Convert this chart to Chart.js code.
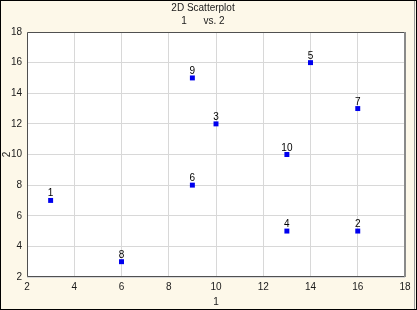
<!DOCTYPE html>
<html>
<head>
<meta charset="utf-8">
<script src="https://cdn.jsdelivr.net/npm/chart.js@4/dist/chart.umd.min.js"></script>
<style>
  html, body { margin: 0; padding: 0; background: #fdf8e9; }
  #wrap { width: 417px; height: 310px; position: relative; }
</style>
</head>
<body>
<div id="wrap"><canvas id="scatter" width="417" height="310"></canvas></div>
<script>
// ---- data ----
const caseLabels = ['1', '2', '3', '4', '5', '6', '7', '8', '9', '10'];
const xValues = [3, 16, 10, 13, 14, 9, 16, 6, 9, 13];
const yValues = [7, 5, 12, 5, 16, 8, 13, 3, 15, 10];
const axisMin = 2;
const axisMax = 18;
const axisStep = 2;

const FONT = "'Liberation Sans', Arial, sans-serif";

// plot area white + frame, outer border of the window
const framePlugin = {
    id: 'frame',
    beforeDraw(chart) {
        const { ctx, chartArea: a, width, height } = chart;
        ctx.save();
        ctx.fillStyle = '#fdf8e9';
        ctx.fillRect(0, 0, width, height);
        ctx.fillStyle = '#ffffff';
        ctx.fillRect(a.left, a.top, a.right - a.left, a.bottom - a.top);
        ctx.restore();
    },
    afterDraw(chart) {
        const { ctx, chartArea: a, width, height } = chart;
        ctx.save();
        // top + left + bottom of plot
        ctx.strokeStyle = '#505050';
        ctx.lineWidth = 1;
        ctx.beginPath();
        ctx.moveTo(a.right, a.top + 0.5);
        ctx.lineTo(a.left + 0.5, a.top + 0.5);
        ctx.lineTo(a.left + 0.5, a.bottom - 0.5);
        ctx.lineTo(a.right, a.bottom - 0.5);
        ctx.stroke();
        // right edge, heavier gray
        ctx.strokeStyle = '#8a8a8a';
        ctx.lineWidth = 2;
        ctx.beginPath();
        ctx.moveTo(a.right, a.top);
        ctx.lineTo(a.right, a.bottom);
        ctx.stroke();
        // window border
        ctx.strokeStyle = '#000000';
        ctx.lineWidth = 1;
        ctx.strokeRect(0.5, 0.5, width - 1, height - 1);
        ctx.strokeStyle = '#9a9a9a';
        ctx.beginPath();
        ctx.moveTo(width - 2.5, 1);
        ctx.lineTo(width - 2.5, height - 1);
        ctx.stroke();
        ctx.restore();
    }
};

// case numbers above each marker
const caseLabelPlugin = {
    id: 'caseLabels',
    afterDatasetsDraw(chart) {
        const { ctx } = chart;
        const meta = chart.getDatasetMeta(0);
        ctx.save();
        ctx.font = '10px ' + FONT;
        ctx.fillStyle = '#000000';
        ctx.textAlign = 'center';
        ctx.textBaseline = 'alphabetic';
        meta.data.forEach((pt, i) => {
            ctx.fillText(caseLabels[i], pt.x, pt.y - 4);
        });
        ctx.restore();
    }
};

const tickFont = { family: FONT, size: 10 };

new Chart(document.getElementById('scatter'), {
    type: 'scatter',
    data: {
        datasets: [{
            data: xValues.map((x, i) => ({ x: x, y: yValues[i] })),
            pointStyle: 'rect',
            pointRadius: 3.5,
            pointHoverRadius: 3.5,
            backgroundColor: '#0000ee',
            borderColor: '#0000ee',
            borderWidth: 0
        }]
    },
    options: {
        responsive: false,
        animation: false,
        layout: { padding: { top: 1, left: 1, right: 12, bottom: 2 } },
        plugins: {
            legend: { display: false },
            tooltip: { enabled: false },
            title: {
                display: true,
                text: '2D Scatterplot',
                color: '#1a1a1a',
                font: { family: FONT, size: 10, weight: 'normal' },
                padding: { top: 1, bottom: 1 }
            },
            subtitle: {
                display: true,
                text: '1      vs. 2',
                color: '#1a1a1a',
                font: { family: FONT, size: 10 },
                padding: { top: 0, bottom: 5 }
            }
        },
        scales: {
            x: {
                type: 'linear',
                min: axisMin,
                max: axisMax,
                afterFit: s => { s.height = 31; },
                ticks: { stepSize: axisStep, color: '#1a1a1a', font: tickFont, padding: 4 },
                grid: { color: '#d8d8d8', drawTicks: false },
                border: { display: false },
                title: { display: true, text: '1', color: '#1a1a1a', font: tickFont, padding: 0 }
            },
            y: {
                type: 'linear',
                min: axisMin,
                max: axisMax,
                afterFit: s => { s.width = 26; },
                ticks: { stepSize: axisStep, color: '#1a1a1a', font: tickFont, padding: 5 },
                grid: { color: '#d8d8d8', drawTicks: false },
                border: { display: false },
                title: { display: true, text: '2', color: '#1a1a1a', font: tickFont, padding: 0 }
            }
        }
    },
    plugins: [framePlugin, caseLabelPlugin]
});
</script>
</body>
</html>
